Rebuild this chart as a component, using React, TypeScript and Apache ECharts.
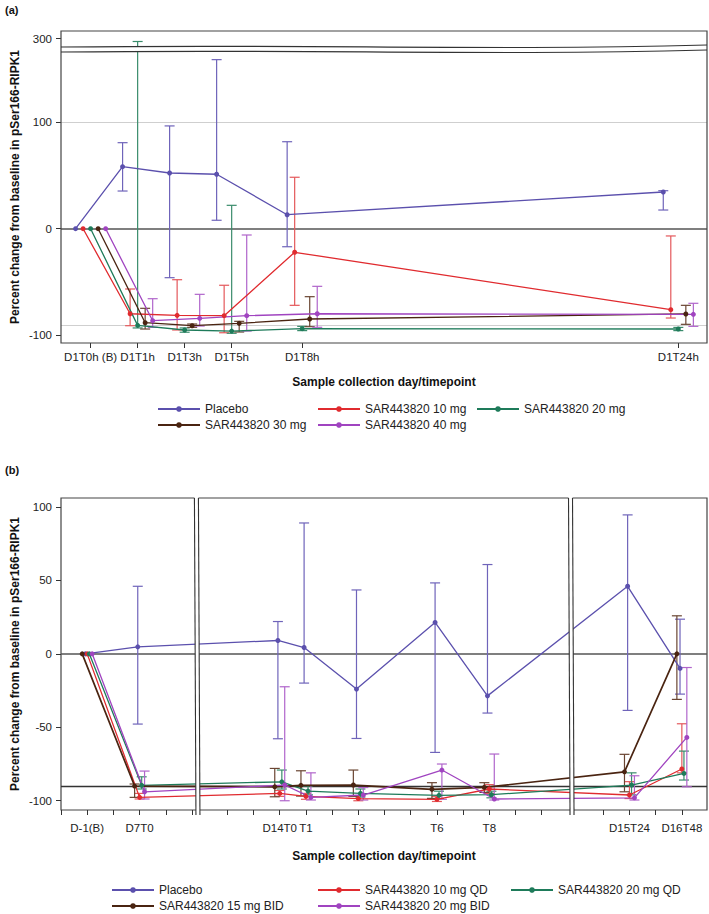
import React, { useEffect, useRef } from 'react';
import * as echarts from 'echarts';

const FONT = '"Liberation Sans", Arial, Helvetica, sans-serif';

// ---------------- Panel (a) data ----------------
const hoursA = [-1, 1, 3, 5, 8, 24];
const tickLabelsA = ['D1T0h (B)', 'D1T1h', 'D1T3h', 'D1T5h', 'D1T8h', 'D1T24h'];
const groupsA = ['Placebo', 'SAR443820 10 mg', 'SAR443820 20 mg', 'SAR443820 30 mg', 'SAR443820 40 mg'];

const placeboA = [0, 58.1, 52.2, 51.0, 13.1, 34.4];
const placeboA_lo = [null, 35.3, -45.9, 7.9, -16.9, 17.5];
const placeboA_hi = [null, 80.6, 96.3, 158.4, 81.5, 35.6];
const mg10A = [0, -79.7, -81.2, -81.5, -22.1, -75.9];
const mg10A_lo = [null, -90.9, -94.9, -97.5, -71.8, -83.7];
const mg10A_hi = [null, -56.5, -47.8, -53.0, 48.2, -6.8];
const mg20A = [0, -90.6, -94.9, -95.9, -93.7, -94.0];
const mg20A_lo = [null, -93.0, -97.0, -98.0, -95.5, -95.5];
const mg20A_hi = [null, 296, -93.0, 21.9, -91.5, -92.5];
const mg30A = [0, -88.1, -90.9, -88.7, -84.6, -79.9];
const mg30A_lo = [null, -94.0, -92.4, -96.8, -91.8, -89.6];
const mg30A_hi = [null, -74.6, -89.3, -86.8, -63.7, -71.8];
const mg40A = [0, -86.2, -84.0, -81.5, -79.7, -80.2];
const mg40A_lo = [null, -92.4, -91.2, -95.9, -92.4, -91.5];
const mg40A_hi = [null, -65.6, -61.5, -5.9, -54.0, -69.9];

// ---------------- Panel (b) data ----------------
const posB = [1, 3, 8.35, 9.35, 11.35, 14.35, 16.35, 21.7, 23.7];
const tickLabelsB = ['D-1(B)', 'D7T0', 'D14T0', 'T1', 'T3', 'T6', 'T8', 'D15T24', 'D16T48'];
const minorTicksB = [0, 1, 2, 3, 4, 5, 6.35, 7.35, 8.35, 9.35, 10.35, 11.35, 12.35, 13.35, 14.35, 15.35, 16.35, 17.35, 18.35, 20.7, 21.7, 22.7, 23.7];
const breaksB = [5.17, 19.45];
const groupsB = ['Placebo', 'SAR443820 10 mg QD', 'SAR443820 20 mg QD', 'SAR443820 15 mg BID', 'SAR443820 20 mg BID'];

const placeboB = [0, 4.8, 9.1, 4.3, -24.0, 21.4, -28.6, 46.0, -9.9];
const placeboB_lo = [null, -47.8, -57.8, -19.9, -57.6, -67.1, -40.3, -38.5, -27.4];
const placeboB_hi = [null, 46.0, 22.0, 89.1, 43.5, 48.3, 60.8, 94.6, 23.6];
const qd10B = [0, -97.7, -95.0, -97.0, -98.5, -99.0, -92.0, -96.1, -78.4];
const qd10B_lo = [null, -98.8, -97.0, -99.0, -100.0, -100.5, -95.0, -98.5, -81.0];
const qd10B_hi = [null, -95.0, -93.0, -95.0, -96.5, -97.0, -89.0, -87.0, -47.6];
const qd20B = [0, -89.5, -87.1, -93.4, -95.0, -96.3, -95.9, -89.3, -81.4];
const qd20B_lo = [null, -92.0, -92.0, -96.0, -97.5, -98.5, -98.0, -96.0, -85.9];
const qd20B_hi = [null, -83.7, -79.1, -90.0, -92.0, -93.5, -93.5, -81.0, -66.2];
const bid15B = [0, -90.0, -90.5, -89.5, -89.3, -92.2, -90.9, -80.3, 0];
const bid15B_lo = [null, -97.7, -97.3, -96.8, -97.0, -98.4, -94.3, -93.9, -31.0];
const bid15B_hi = [null, -88.6, -78.0, -79.6, -79.1, -87.7, -87.7, -68.4, 25.9];
const bid20B = [0, -93.9, -89.3, -97.7, -96.1, -79.1, -98.8, -98.0, -56.9];
const bid20B_lo = [null, -98.8, -100.0, -99.5, -99.5, -99.0, -99.5, -99.5, -90.5];
const bid20B_hi = [null, -79.8, -22.4, -81.0, -91.0, -75.0, -68.2, -83.0, -9.3];

// ---------------- styling / layout ----------------
const LINE_COLORS = ['#5b50ad', '#e02b2f', '#1e7b5a', '#4a2411', '#a044c0'];
const ERR_COLORS = ['#6f64ba', '#e4585b', '#3a8c6c', '#6a4532', '#b065cb'];
const DODGE_A = [-0.64, -0.32, 0, 0.32, 0.64];
const DODGE_B = [-0.07, 0, 0.08, -0.19, 0.19];

const W = 709, H = 914;
const A_LEFT = 61, A_RIGHT = 707, A_TOP = 31, A_UP_BOT = 46, A_LOW_TOP = 51, A_BOT = 343;
const B_LEFT = 61, B_RIGHT = 707, B_TOP = 498, B_BOT = 810;
const legendPosA = [[157, 410], [317, 410], [476, 410], [157, 426], [317, 426]];
const legendPosB = [[111, 891], [317, 891], [510, 891], [111, 907], [317, 907]];

const seriesA = [
  [placeboA, placeboA_lo, placeboA_hi],
  [mg10A, mg10A_lo, mg10A_hi],
  [mg20A, mg20A_lo, mg20A_hi],
  [mg30A, mg30A_lo, mg30A_hi],
  [mg40A, mg40A_lo, mg40A_hi],
];
const seriesB = [
  [placeboB, placeboB_lo, placeboB_hi],
  [qd10B, qd10B_lo, qd10B_hi],
  [qd20B, qd20B_lo, qd20B_hi],
  [bid15B, bid15B_lo, bid15B_hi],
  [bid20B, bid20B_lo, bid20B_hi],
];

const errRender = (params: any, api: any) => {
  const x = api.value(0), lo = api.value(1), hi = api.value(2);
  const pl = api.coord([x, lo]);
  const ph = api.coord([x, hi]);
  const cs = params.coordSys;
  const top = cs.y, bot = cs.y + cs.height;
  const y1 = Math.max(ph[1], top), y2 = Math.min(pl[1], bot);
  const style = { stroke: api.visual('color'), lineWidth: 1.2, fill: 'none' };
  const children: any[] = [];
  if (y1 < y2) {
    children.push({ type: 'line', shape: { x1: pl[0], y1, x2: pl[0], y2 }, style });
  }
  const hw = 5;
  if (ph[1] >= top - 0.5 && ph[1] <= bot + 0.5) {
    children.push({ type: 'line', shape: { x1: ph[0] - hw, y1: ph[1], x2: ph[0] + hw, y2: ph[1] }, style });
  }
  if (pl[1] >= top - 0.5 && pl[1] <= bot + 0.5) {
    children.push({ type: 'line', shape: { x1: pl[0] - hw, y1: pl[1], x2: pl[0] + hw, y2: pl[1] }, style });
  }
  return { type: 'group', children };
};

const labelStyle = { fontFamily: FONT, fontSize: 11.5, color: '#222' };
const tickStyle = { color: '#333', width: 1 };
const noLine = { show: false, onZero: false };

function buildOption() {
  const series: any[] = [];
  // Panel (a)
  seriesA.forEach(([mean, lo, hi], g) => {
    const line: any = {
      type: 'line', name: groupsA[g], xAxisIndex: 1, yAxisIndex: 1,
      data: hoursA.map((h, i) => [h + DODGE_A[g], mean[i]]),
      symbol: 'circle', symbolSize: 5, showSymbol: true,
      lineStyle: { color: LINE_COLORS[g], width: 1.3 },
      itemStyle: { color: LINE_COLORS[g] },
      z: 4, silent: true,
    };
    if (g === 0) {
      line.markLine = {
        silent: true, symbol: 'none', label: { show: false }, z: 1,
        data: [
          { yAxis: 100, lineStyle: { color: '#cfcfcf', width: 1, type: 'solid' } },
          { yAxis: -90, lineStyle: { color: '#cfcfcf', width: 1, type: 'solid' } },
          { yAxis: 0, lineStyle: { color: '#555', width: 1.6, type: 'solid' } },
        ],
      };
    }
    series.push(line);
    const ed = hoursA.map((h, i) => (lo[i] == null ? null : [h + DODGE_A[g], lo[i], hi[i]])).filter(Boolean);
    [0, 1].forEach((gi) => {
      series.push({
        type: 'custom', name: groupsA[g] + ' err ' + gi, xAxisIndex: gi, yAxisIndex: gi,
        data: ed, renderItem: errRender, encode: { x: 0, y: [1, 2] },
        itemStyle: { color: ERR_COLORS[g] }, z: 3, silent: true,
      });
    });
  });
  // Panel (b)
  seriesB.forEach(([mean, lo, hi], g) => {
    const line: any = {
      type: 'line', name: groupsB[g], xAxisIndex: 2, yAxisIndex: 2,
      data: posB.map((p, i) => [p + DODGE_B[g], mean[i]]),
      symbol: 'circle', symbolSize: 5, showSymbol: true,
      lineStyle: { color: LINE_COLORS[g], width: g === 3 ? 1.7 : 1.3 },
      itemStyle: { color: LINE_COLORS[g] },
      z: 4, silent: true,
    };
    if (g === 0) {
      line.markLine = {
        silent: true, symbol: 'none', label: { show: false }, z: 1,
        data: [
          { yAxis: 0, lineStyle: { color: '#555', width: 1.6, type: 'solid' } },
          { yAxis: -90, lineStyle: { color: '#333', width: 1.3, type: 'solid' } },
        ],
      };
    }
    series.push(line);
    const ed = posB.map((p, i) => (lo[i] == null ? null : [p + DODGE_B[g], lo[i], hi[i]])).filter(Boolean);
    series.push({
      type: 'custom', name: groupsB[g] + ' err', xAxisIndex: 2, yAxisIndex: 2,
      data: ed, renderItem: errRender, encode: { x: 0, y: [1, 2] },
      itemStyle: { color: ERR_COLORS[g] }, z: 3, silent: true,
    });
  });

  const legends: any[] = [];
  const mkLegend = (name: string, pos: number[]) => ({
    data: [name], left: pos[0], top: pos[1] - 7, orient: 'horizontal',
    itemWidth: 42, itemHeight: 7, padding: 0, itemGap: 0, selectedMode: false,
    textStyle: { fontFamily: FONT, fontSize: 12, color: '#222' },
  });
  groupsA.forEach((n, i) => legends.push(mkLegend(n, legendPosA[i])));
  groupsB.forEach((n, i) => legends.push(mkLegend(n, legendPosB[i])));

  const fmtA = (v: number) => {
    const i = hoursA.findIndex((h) => Math.abs(h - v) < 1e-6);
    return i >= 0 ? tickLabelsA[i] : '';
  };
  const fmtB = (v: number) => {
    const i = posB.findIndex((h) => Math.abs(h - v) < 1e-6);
    return i >= 0 ? tickLabelsB[i] : '';
  };

  return {
    animation: false,
    backgroundColor: '#fff',
    textStyle: { fontFamily: FONT },
    grid: [
      { left: A_LEFT, right: W - A_RIGHT, top: A_TOP, height: A_UP_BOT - A_TOP, containLabel: false, outerBoundsMode: 'none' },
      { left: A_LEFT, right: W - A_RIGHT, top: A_LOW_TOP, height: A_BOT - A_LOW_TOP, containLabel: false, outerBoundsMode: 'none' },
      { left: B_LEFT, right: W - B_RIGHT, top: B_TOP, height: B_BOT - B_TOP, containLabel: false, outerBoundsMode: 'none',
        show: true, borderColor: '#444', borderWidth: 1.2 },
    ],
    xAxis: [
      { type: 'value', gridIndex: 0, min: -2.26, max: 25.22, show: false, axisLine: noLine },
      {
        type: 'value', gridIndex: 1, min: -2.26, max: 25.22,
        axisLine: noLine,
        axisTick: { show: true, customValues: hoursA, length: 5, lineStyle: tickStyle },
        axisLabel: { show: true, customValues: hoursA, formatter: fmtA, margin: 8, ...labelStyle },
        splitLine: { show: false },
        name: 'Sample collection day/timepoint', nameLocation: 'middle', nameGap: 33,
        nameTextStyle: { fontFamily: FONT, fontSize: 12, fontWeight: 'bold', color: '#111' },
      },
      {
        type: 'value', gridIndex: 2, min: 0, max: 24.66,
        axisLine: noLine,
        axisTick: { show: true, customValues: minorTicksB, length: 5, lineStyle: tickStyle },
        axisLabel: { show: true, customValues: posB, formatter: fmtB, margin: 12, ...labelStyle },
        splitLine: { show: false },
        name: 'Sample collection day/timepoint', nameLocation: 'middle', nameGap: 40,
        nameTextStyle: { fontFamily: FONT, fontSize: 12, fontWeight: 'bold', color: '#111' },
      },
    ],
    yAxis: [
      {
        type: 'value', gridIndex: 0, min: 290, max: 310,
        axisLine: noLine,
        axisTick: { show: true, customValues: [300], length: 5, lineStyle: tickStyle },
        axisLabel: { show: true, customValues: [300], margin: 9, ...labelStyle },
        splitLine: { show: false },
      },
      {
        type: 'value', gridIndex: 1, min: -107.1, max: 166.5,
        axisLine: noLine,
        axisTick: { show: true, customValues: [-100, 0, 100], length: 5, lineStyle: tickStyle },
        axisLabel: { show: true, customValues: [-100, 0, 100], margin: 9, ...labelStyle },
        splitLine: { show: false },
      },
      {
        type: 'value', gridIndex: 2, min: -106.3, max: 106.1,
        axisLine: noLine,
        axisTick: { show: true, customValues: [-100, -50, 0, 50, 100], length: 5, lineStyle: tickStyle },
        axisLabel: { show: true, customValues: [-100, -50, 0, 50, 100], margin: 9, ...labelStyle },
        splitLine: { show: false },
      },
    ],
    legend: legends,
    series,
  };
}

function buildGraphics(bx: number[]) {
  const els: any[] = [
    { id: 'ta', type: 'text', x: 5, y: 4, style: { text: '(a)', font: `bold 11px ${FONT}`, fill: '#111' } },
    { id: 'tb', type: 'text', x: 5, y: 464, style: { text: '(b)', font: `bold 11px ${FONT}`, fill: '#111' } },
    {
      id: 'ya', type: 'text', x: 15, y: (A_TOP + A_BOT) / 2, rotation: Math.PI / 2,
      style: { text: 'Percent change from baseline in pSer166-RIPK1', font: `bold 12px ${FONT}`, fill: '#111', align: 'center', verticalAlign: 'middle' },
    },
    {
      id: 'yb', type: 'text', x: 15, y: (B_TOP + B_BOT) / 2, rotation: Math.PI / 2,
      style: { text: 'Percent change from baseline in pSer166-RIPK1', font: `bold 12px ${FONT}`, fill: '#111', align: 'center', verticalAlign: 'middle' },
    },
    {
      id: 'frameA', type: 'rect', z: 50,
      shape: { x: A_LEFT, y: A_TOP, width: A_RIGHT - A_LEFT, height: A_BOT - A_TOP },
      style: { fill: 'none', stroke: '#444', lineWidth: 1.2 },
    },
    {
      id: 'brkA1', type: 'bezierCurve', z: 51,
      shape: { x1: A_LEFT, y1: A_UP_BOT + 1, x2: A_RIGHT, y2: A_UP_BOT - 1, cpx1: 330, cpy1: A_UP_BOT - 2, cpx2: 480, cpy2: A_UP_BOT + 5 },
      style: { fill: 'none', stroke: '#333', lineWidth: 1.2 },
    },
    {
      id: 'brkA2', type: 'bezierCurve', z: 51,
      shape: { x1: A_LEFT, y1: A_LOW_TOP + 1, x2: A_RIGHT, y2: A_LOW_TOP - 1, cpx1: 330, cpy1: A_LOW_TOP - 2, cpx2: 480, cpy2: A_LOW_TOP + 5 },
      style: { fill: 'none', stroke: '#333', lineWidth: 1.2 },
    },
  ];
  bx.forEach((x, k) => {
    els.push({
      id: 'brkBw' + k, type: 'polygon', z: 60,
      shape: { points: [[x - 2, B_TOP - 1], [x + 2, B_TOP - 1], [x + 3.5, B_BOT + 5], [x - 0.5, B_BOT + 5]] },
      style: { fill: '#fff', stroke: 'none' },
    });
    els.push({
      id: 'brkBl' + k, type: 'line', z: 61,
      shape: { x1: x - 2, y1: B_TOP, x2: x - 0.5, y2: B_BOT + 5 },
      style: { stroke: '#333', lineWidth: 1.1 },
    });
    els.push({
      id: 'brkBr' + k, type: 'line', z: 61,
      shape: { x1: x + 2, y1: B_TOP, x2: x + 3.5, y2: B_BOT + 5 },
      style: { stroke: '#333', lineWidth: 1.1 },
    });
  });
  return els;
}

export default function App() {
  const ref = useRef<HTMLDivElement>(null);
  useEffect(() => {
    document.body.style.margin = '0';
    const chart = echarts.init(ref.current as HTMLDivElement, null, { renderer: 'svg' });
    chart.setOption(buildOption() as any);
    const bx = breaksB.map((v) => chart.convertToPixel({ xAxisIndex: 2 }, v) as unknown as number);
    chart.setOption({ graphic: { elements: buildGraphics(bx) } } as any);
    return () => chart.dispose();
  }, []);
  return <div ref={ref} style={{ width: W, height: H }} />;
}
